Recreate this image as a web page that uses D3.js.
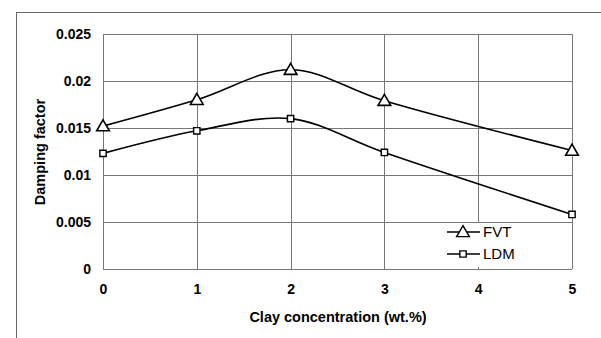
<!DOCTYPE html>
<html>
<head>
<meta charset="utf-8">
<script src="https://cdn.jsdelivr.net/npm/d3@7"></script>
<style>
  body { margin: 0; background: #fff; }
  text { font-family: "Liberation Sans", Arial, sans-serif; }
</style>
</head>
<body>
<div id="chart"></div>
<script>
var clayConc = [0, 1, 2, 3, 5];
var fvtValues = [0.0152, 0.0180, 0.0212, 0.0179, 0.0126];
var ldmValues = [0.0123, 0.0147, 0.0160, 0.0124, 0.0058];
var xTicks = [0, 1, 2, 3, 4, 5];
var yTicks = [0, 0.005, 0.01, 0.015, 0.02, 0.025];
var seriesNames = ["FVT", "LDM"];

var width = 601, height = 338;
var svg = d3.select("#chart").append("svg")
  .attr("width", width)
  .attr("height", height);

// outer chart frame
svg.append("rect")
  .attr("x", 16.5).attr("y", 12.5)
  .attr("width", 600).attr("height", 340)
  .attr("fill", "none")
  .attr("stroke", "#666")
  .attr("stroke-width", 1);

var x = d3.scaleLinear().domain([0, 5]).range([103, 572]);
var y = d3.scaleLinear().domain([0, 0.025]).range([269, 34]);

// grid
svg.append("g").selectAll("line.h")
  .data(yTicks).enter().append("line")
  .attr("x1", x(0)).attr("x2", x(5))
  .attr("y1", function (d) { return Math.round(y(d)) + 0.5; })
  .attr("y2", function (d) { return Math.round(y(d)) + 0.5; })
  .attr("stroke", "#777").attr("stroke-width", 1);
svg.append("g").selectAll("line.v")
  .data(xTicks).enter().append("line")
  .attr("y1", y(0)).attr("y2", y(0.025))
  .attr("x1", function (d) { return Math.round(x(d)) + 0.5; })
  .attr("x2", function (d) { return Math.round(x(d)) + 0.5; })
  .attr("stroke", "#777").attr("stroke-width", 1);

// axes (labels only)
var yAxis = d3.axisLeft(y).tickValues(yTicks).tickSize(0).tickPadding(12)
  .tickFormat(function (d) { return d === 0 ? "0" : String(+d.toFixed(3)); });
var xAxis = d3.axisBottom(x).tickValues(xTicks).tickSize(0).tickPadding(15)
  .tickFormat(d3.format("d"));

var gy = svg.append("g").attr("transform", "translate(" + x(0) + ",0)").call(yAxis);
var gx = svg.append("g").attr("transform", "translate(0," + y(0) + ")").call(xAxis);
[gy, gx].forEach(function (g) {
  g.select(".domain").remove();
  g.selectAll("text")
    .style("font-family", "'Liberation Sans', Arial, sans-serif")
    .style("font-size", "14px")
    .style("font-weight", "bold")
    .attr("fill", "#000");
});

svg.append("text")
  .attr("transform", "translate(45,152) rotate(-90)")
  .attr("text-anchor", "middle")
  .style("font-size", "14.5px").style("font-weight", "bold")
  .text("Damping factor");
svg.append("text")
  .attr("x", 338).attr("y", 322)
  .attr("text-anchor", "middle")
  .style("font-size", "14.5px").style("font-weight", "bold")
  .text("Clay concentration (wt.%)");

var line = d3.line()
  .x(function (d) { return x(d[0]); })
  .y(function (d) { return y(d[1]); })
  .curve(d3.curveCatmullRom.alpha(0.5));

var fvtData = clayConc.map(function (c, i) { return [c, fvtValues[i]]; });
var ldmData = clayConc.map(function (c, i) { return [c, ldmValues[i]]; });

[fvtData, ldmData].forEach(function (data) {
  svg.append("path")
    .datum(data)
    .attr("d", line)
    .attr("fill", "none")
    .attr("stroke", "#000")
    .attr("stroke-width", 1.6);
});

var triangle = d3.symbol().type(d3.symbolTriangle).size(70);
var square = d3.symbol().type(d3.symbolSquare).size(40);

svg.append("g").selectAll("path")
  .data(fvtData).enter().append("path")
  .attr("d", triangle)
  .attr("transform", function (d) { return "translate(" + x(d[0]) + "," + (y(d[1]) + 1) + ")"; })
  .attr("fill", "#fff").attr("stroke", "#000").attr("stroke-width", 1.6);

svg.append("g").selectAll("path")
  .data(ldmData).enter().append("path")
  .attr("d", square)
  .attr("transform", function (d) { return "translate(" + x(d[0]) + "," + y(d[1]) + ")"; })
  .attr("fill", "#fff").attr("stroke", "#000").attr("stroke-width", 1.4);

// legend
var legend = svg.append("g");
legend.append("rect")
  .attr("x", 442).attr("y", 223)
  .attr("width", 126).attr("height", 44)
  .attr("fill", "#fff");
var markers = [triangle, square];
seriesNames.forEach(function (name, i) {
  var ly = 232 + i * 22;
  legend.append("line")
    .attr("x1", 447).attr("x2", 480)
    .attr("y1", ly).attr("y2", ly)
    .attr("stroke", "#000").attr("stroke-width", 1.3);
  legend.append("path")
    .attr("d", markers[i])
    .attr("transform", "translate(463," + (ly + (i === 0 ? 1 : 0)) + ")")
    .attr("fill", "#fff").attr("stroke", "#000").attr("stroke-width", 1.4);
  legend.append("text")
    .attr("x", 483).attr("y", ly + 5)
    .style("font-size", "15px")
    .text(name);
});
</script>
</body>
</html>
